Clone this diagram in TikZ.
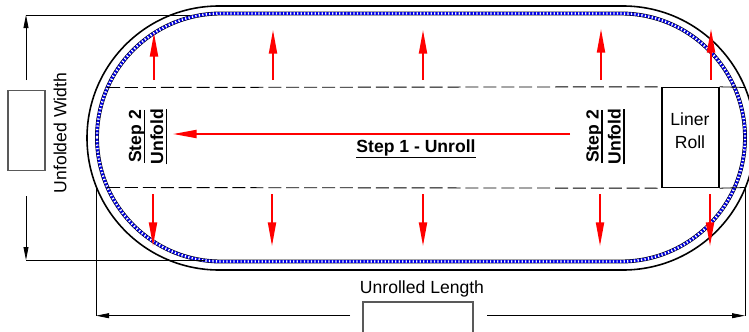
\documentclass[tikz,border=0pt]{standalone}
\usepackage{fontspec}
\setmainfont{Liberation Sans}
\usetikzlibrary{arrows.meta, positioning}
\newcommand{\heavyul}[2][1.4pt]{\leavevmode\vtop{\hbox{\vphantom{S}\smash{#2}}\kern#1\hrule height 0.7pt}}

\begin{document}
\begin{tikzpicture}[
		x=0.02cm, y=-0.02cm,
		>={Triangle[length=7.4pt, width=2.8pt]},
		redhead/.style={-{Triangle[length=13.5pt, width=4.6pt]}, red, line width=1pt},
		dimline/.style={black, line width=0.45pt},
		foldline/.style={black, line width=0.5pt, dash pattern=on 7.4pt off 2.8pt},
		outerwall/.style={black, line width=0.9pt, rounded corners=2.64cm},
		linerbody/.style={rounded corners=2.48cm},
		dimbox/.style={rectangle, draw=black!65, fill=white, line width=0.6pt, inner sep=0pt},
		steptext/.style={rotate=90, font=\bfseries, align=center, inner sep=0pt}
		]
		
		\useasboundingbox (0, 0) rectangle (749, 331);
		\clip (0, 0) rectangle (749, 331);
		
		% Outer wall and liner
		\draw[outerwall] (87, 6) rectangle (755, 270);
		\draw[linerbody, black, line width=2.2pt] (97, 13.5) rectangle (745, 261.5);
		\draw[linerbody, blue!90!black, line width=1.6pt] (97, 13.5) rectangle (745, 261.5);
		\draw[linerbody, white, line width=1.4pt, dash pattern=on 0.7pt off 1.3pt] (97, 13.5) rectangle (745, 261.5);
		
		% Fold lines
		\node[rectangle, draw=black, fill=white, line width=0.8pt, minimum width=1.14cm, minimum height=2cm, inner sep=0pt] (roll) at (690.5, 137.5) {};
		\node[align=center, inner sep=0pt] (rolltext) at (690, 130.5) {Liner\\[1pt]Roll};
		\coordinate (foldtl) at (107, 87.5);
		\coordinate (foldbl) at (107, 187.5);
		\coordinate (foldtr) at (745, 87.5);
		\coordinate (foldbr) at (745, 187.5);
		\draw[foldline] (foldtl) -- (roll.north west);
		\draw[foldline] (foldbl) -- (roll.south west);
		\draw[dimline] (roll.north east) -- (foldtr);
		\draw[dimline] (roll.south east) -- (foldbr);
		\draw[black, line width=0.8pt] (719, 87.5) -- (719, 187.5);
		
		% Unfolded width dimension
		\node[dimbox, minimum width=0.74cm, minimum height=1.6cm] (widthbox) at (26.5, 130.5) {};
		\node[rotate=90] (widthtext) at (60, 133) {Unfolded Width};
		\coordinate (widthtop) at (26, 15);
		\coordinate (widthbot) at (26, 260);
		\coordinate (widthupper) at (26, 80);
		\coordinate (widthlower) at (26, 196);
		\coordinate (widthtopend) at (190, 15);
		\coordinate (widthbotend) at (205, 260);
		\draw[dimline, ->] (widthupper) -- (widthtop);
		\draw[dimline, ->] (widthlower) -- (widthbot);
		\draw[dimline] (widthtop) -- (widthtopend);
		\draw[dimline] (widthbot) -- (widthbotend);
		
		% Unrolled length dimension
		\node (lengthtext) at (422, 289) {Unrolled Length};
		\node[dimbox, minimum width=2.2cm, minimum height=0.8cm] (lengthbox) at (418, 322) {};
		\coordinate (lengthleft) at (96, 315.7);
		\coordinate (lengthright) at (745, 315.7);
		\coordinate (lengthgapl) at (350, 315.7);
		\coordinate (lengthgapr) at (487, 315.7);
		\coordinate (lengthlefttop) at (96, 187.5);
		\draw[dimline, ->] (lengthgapl) -- (lengthleft);
		\draw[dimline, ->] (lengthgapr) -- (lengthright);
		\draw[dimline] (lengthlefttop) -- (lengthleft);
		\draw[dimline] (foldbr) -- (lengthright);
		
		% Unfold arrows
		\foreach \name/\px/\ptip in {a/154/33, b/273/30, c/423/30, d/601/29, e/711/29} {
			\coordinate (up\name) at (\px, 80);
			\coordinate (uptip\name) at (\px, \ptip);
			\draw[redhead] (up\name) -- (uptip\name);
		}
		\foreach \name/\px in {a/153, b/272, c/423, d/600, e/710} {
			\coordinate (down\name) at (\px, 194);
			\coordinate (downtip\name) at (\px, 246);
			\draw[redhead] (down\name) -- (downtip\name);
		}
		
		% Unroll arrow
		\coordinate (rollstart) at (570, 134);
		\coordinate (rollend) at (173, 134);
		\draw[redhead] (rollstart) -- (rollend);
		
		% Step labels
		\node[font=\bfseries, inner sep=0pt] (stepone) at (416, 149) {\heavyul[2.2pt]{Step 1 - Unroll}};
		\node[steptext] (stepleft) at (148, 136.5) {\heavyul{Step 2}\\[0.5pt]\heavyul{Unfold}};
		\node[steptext] (stepright) at (605.5, 136.5) {\heavyul{Step 2}\\[0.5pt]\heavyul{Unfold}};
		
	\end{tikzpicture}
\end{document}
